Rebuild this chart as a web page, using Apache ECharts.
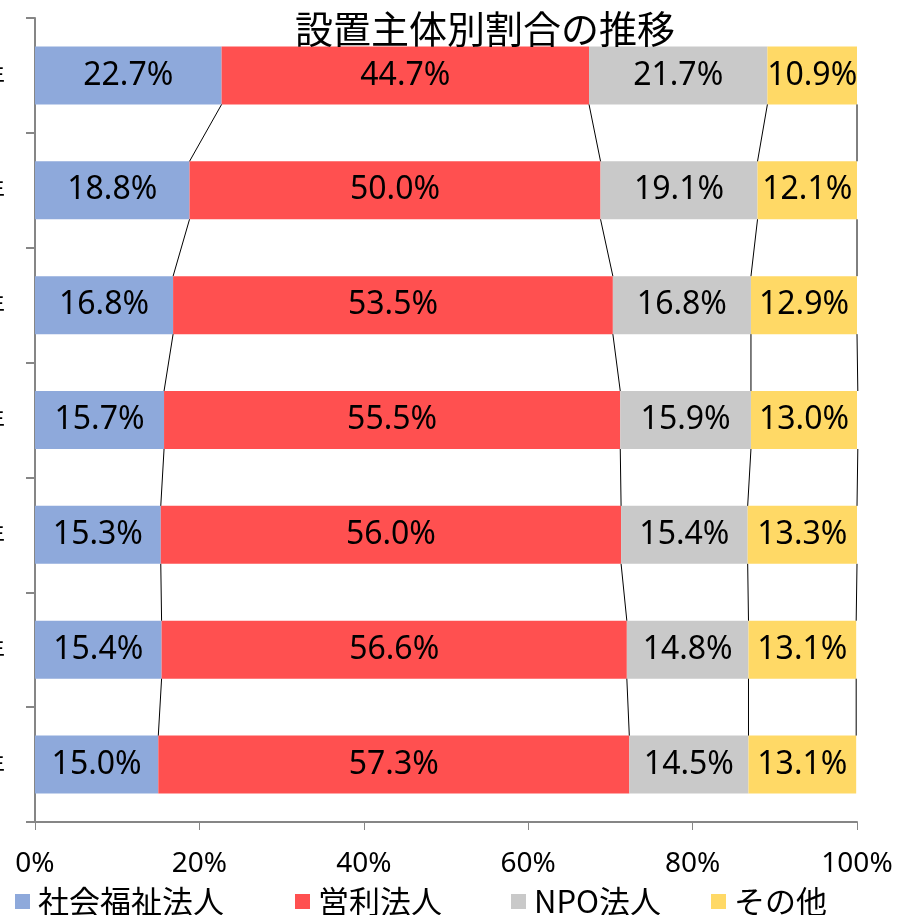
<!DOCTYPE html>
<html><head><meta charset="utf-8">
<script src="https://cdn.jsdelivr.net/npm/echarts@6/dist/echarts.min.js"></script>
<style>html,body{margin:0;padding:0;background:#fff}#c{width:913px;height:915px}</style>
</head><body><div id="c"></div>
<script>
const categories = ['平成24年','平成25年','平成26年','平成27年','平成28年','平成29年','平成30年'];
const seriesNames = ['社会福祉法人','営利法人','NPO法人','その他'];
const shakaiFukushi = [22.7, 18.8, 16.8, 15.7, 15.3, 15.4, 15.0];
const eiri = [44.7, 50.0, 53.5, 55.5, 56.0, 56.6, 57.3];
const npo = [21.7, 19.1, 16.8, 15.9, 15.4, 14.8, 14.5];
const sonota = [10.9, 12.1, 12.9, 13.0, 13.3, 13.1, 13.1];
const xTicks = [0, 20, 40, 60, 80, 100];

const colors = ['#8EA9DB', '#FF5050', '#C9C9C9', '#FFD966'];
const values = [shakaiFukushi, eiri, npo, sonota];
const barRatio = 0.505;
const font = "'Noto Sans', 'Noto Sans CJK JP', sans-serif";
const cjk = "'Noto Sans CJK JP', sans-serif";

// series-line data: cumulative boundaries between consecutive bars
const lineData = [];
for (let i = 0; i < categories.length - 1; i++) {
  let cu = 0, cl = 0;
  for (let k = 0; k < values.length; k++) {
    cu += values[k][i]; cl += values[k][i + 1];
    lineData.push([cu, cl, i, i + 1]);
  }
}

const chart = echarts.init(document.getElementById('c'));
const barSeries = seriesNames.map((n, k) => ({
  name: n, type: 'bar', stack: 'all', barWidth: (barRatio * 100) + '%',
  itemStyle: { color: colors[k] },
  label: { show: true, position: 'inside', color: '#000', fontSize: 32, fontFamily: font,
    formatter: p => p.value.toFixed(1) + '%' },
  data: values[k]
}));
const legendLefts = [10, 290, 506, 706];
chart.setOption({
  animation: false,
  title: { text: '設置主体別割合の推移', left: 290, top: 5,
    textStyle: { fontFamily: cjk, fontSize: 38, fontWeight: 'normal', color: '#000' } },
  legend: seriesNames.map((n, k) => ({
    data: [n], left: legendLefts[k], top: 881, icon: 'rect', itemWidth: 15, itemHeight: 15,
    textStyle: { fontFamily: cjk, fontSize: 31, color: '#000', padding: [0, 0, 0, 3] }
  })),
  grid: { left: 35, right: 56, top: 18, bottom: 93, containLabel: false, outerBoundsMode: 'none' },
  xAxis: { type: 'value', min: 0, max: 100, interval: 20,
    axisLine: { show: true, lineStyle: { color: '#868686', width: 2 } },
    axisTick: { show: true, length: 8, lineStyle: { color: '#868686', width: 1 } },
    splitLine: { show: false },
    axisLabel: { fontFamily: font, fontSize: 28, color: '#000', margin: 28,
      formatter: v => xTicks.includes(v) ? v + '%' : '' } },
  yAxis: { type: 'category', data: categories, inverse: true,
    axisLine: { show: true, lineStyle: { color: '#868686', width: 2 } },
    axisTick: { show: true, length: 9, lineStyle: { color: '#868686', width: 2 } },
    axisLabel: { fontFamily: cjk, fontSize: 24, color: '#000', margin: 30 } },
  series: barSeries.concat([{
    type: 'custom', coordinateSystem: 'cartesian2d', z: 5, silent: true,
    encode: { x: [0, 1], y: [2, 3] },
    data: lineData,
    renderItem: (params, api) => {
      const p1 = api.coord([api.value(0), api.value(2)]);
      const p2 = api.coord([api.value(1), api.value(3)]);
      const half = api.size([0, 1])[1] * barRatio / 2;
      return { type: 'line', shape: { x1: p1[0], y1: p1[1] + half, x2: p2[0], y2: p2[1] - half },
        style: { stroke: '#000', lineWidth: 1 } };
    }
  }])
});
</script></body></html>
